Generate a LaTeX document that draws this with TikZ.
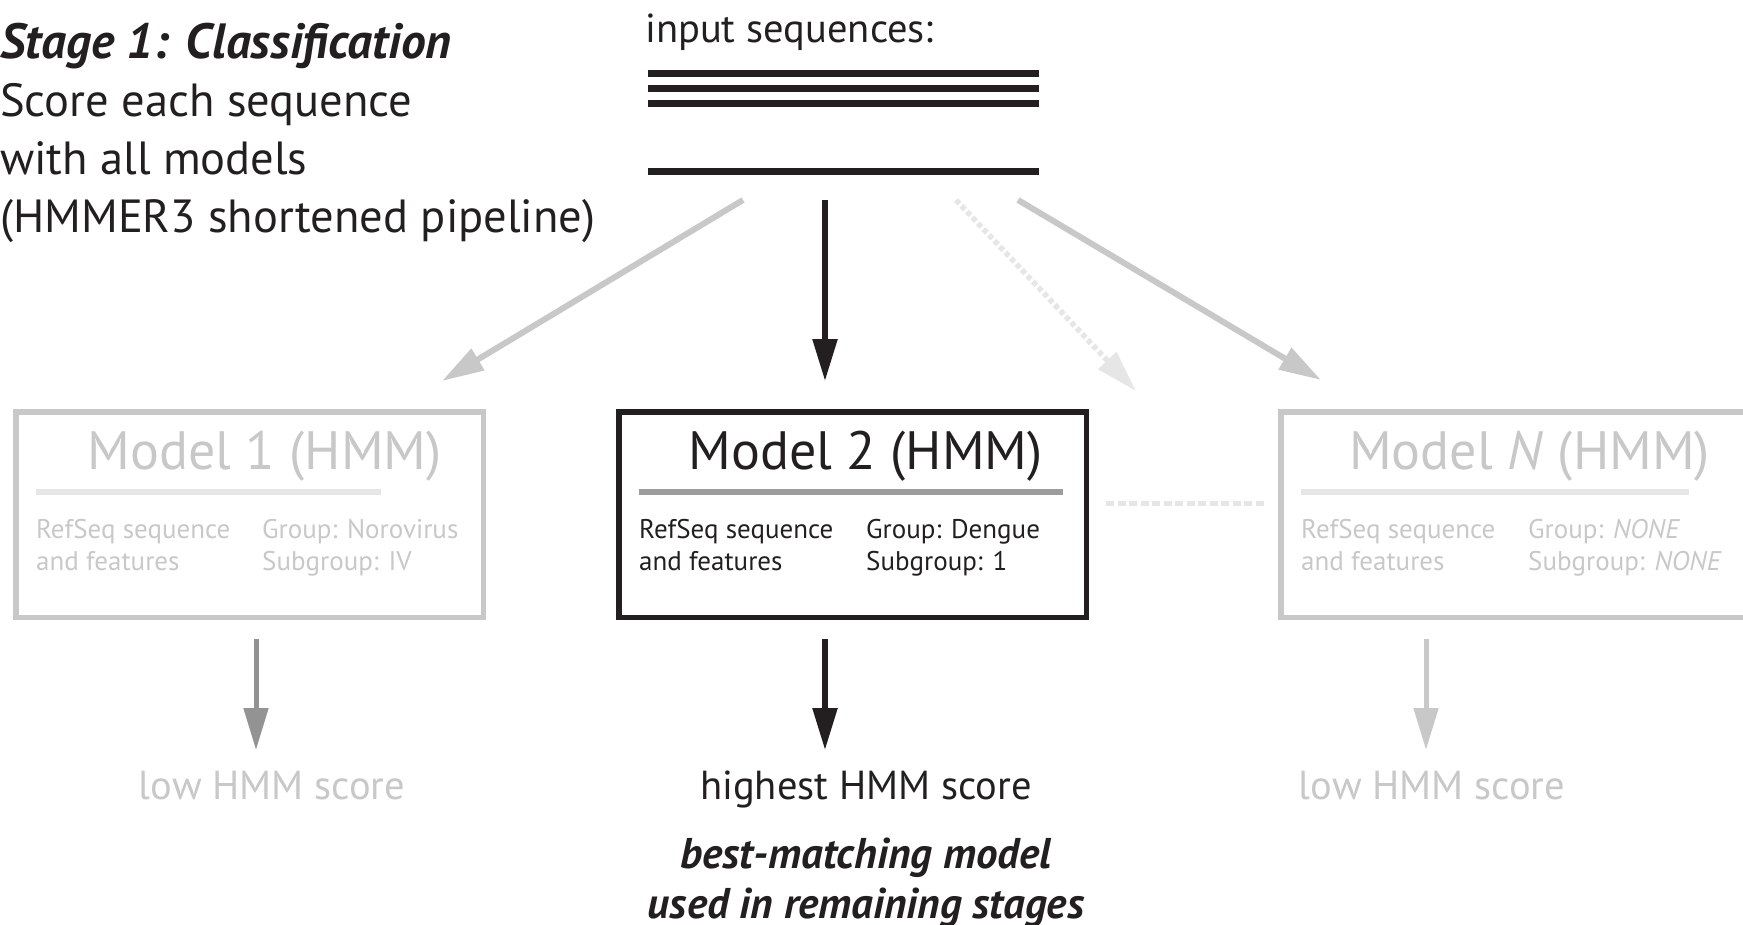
\documentclass[tikz,border=0pt]{standalone}
\usepackage{fontspec}
\setmainfont{PT Sans}
\usepackage{xcolor}
\usepackage{tikz}
\usetikzlibrary{arrows.meta,positioning}
\definecolor{ink}{HTML}{231F20}
\definecolor{faint}{HTML}{C8C8C8}
\definecolor{pale}{HTML}{E6E6E6}
\definecolor{rulegray}{HTML}{9D9D9D}
\definecolor{midgray}{HTML}{939393}

\begin{document}
\begin{tikzpicture}[x=1pt, y=-1pt, every node/.style={inner sep=0pt, text=ink},
      model/.style={draw=#1, line width=5.5pt, minimum width=467.5pt, minimum height=205.5pt},
      title/.style={font=\fontsize{54}{62}\selectfont, anchor=base},
      info/.style={font=\fontsize{27}{32}\selectfont, align=left, anchor=north west},
      big/.style={font=\fontsize{40.5}{52}\selectfont},
      seqline/.style={draw=ink, line width=7pt},
      >={Triangle[length=42pt, width=24pt]}]
    \useasboundingbox (0,0) rectangle (1743,924);
    \node[font=\fontsize{46.5}{58}\selectfont, align=left, anchor=north west] (stage) at (0,23)
      {{\fontsize{49.5}{58}\selectfont\bfseries\itshape Stage 1: Classification}\\Score each sequence\\with all models\\(HMMER3 shortened pipeline)};
    \node[big, anchor=base west] (inp) at (645,42) {input sequences:};
    \foreach \y in {73,88,103,171} \draw[seqline] (648,\y) -- (1039,\y);
    % the three models
    \node[model=faint] (m1) at (249.5,514.5) {};
    \node[model=ink, right=130pt of m1] (m2) {};
    \node[model=faint, right=189pt of m2] (mN) {};
    \node[title, text=faint] (t1) at ([shift={(15pt,-60pt)}]m1.north) {Model 1 (HMM)};
    \node[title] (t2) at ([shift={(13pt,-60pt)}]m2.north) {Model 2 (HMM)};
    \node[title, text=faint] (tN) at ([shift={(15pt,-60pt)}]mN.north) {Model \textit{N} (HMM)};
    \draw[pale, line width=6pt] ([shift={(23pt,-83pt)}]m1.north west) -- ++(345,0);
    \draw[rulegray, line width=6pt] ([shift={(23pt,-83pt)}]m2.north west) -- ++(424,0);
    \draw[pale, line width=6pt] ([shift={(23pt,-83pt)}]mN.north west) -- ++(388,0);
    \node[info, text=faint] (r1) at ([shift={(23pt,-110pt)}]m1.north west) {RefSeq sequence\\and features};
    \node[info, text=faint] (g1) at ([shift={(249pt,-110pt)}]m1.north west) {Group: Norovirus\\Subgroup: IV};
    \node[info] (r2) at ([shift={(23pt,-110pt)}]m2.north west) {RefSeq sequence\\and features};
    \node[info] (g2) at ([shift={(250pt,-110pt)}]m2.north west) {Group: Dengue\\Subgroup: 1};
    \node[info, text=faint] (rN) at ([shift={(23pt,-110pt)}]mN.north west) {RefSeq sequence\\and features};
    \node[info, text=faint] (gN) at ([shift={(250pt,-110pt)}]mN.north west) {Group: \textit{NONE}\\Subgroup: \textit{NONE}};
    \draw[pale, line width=5pt, dash pattern=on 8pt off 3.5pt]
      ([shift={(17pt,11pt)}]m2.east) -- ([shift={(-14pt,11pt)}]mN.west);
    % arrows from the input
    \coordinate (s1) at (743,200); \coordinate (e1) at (442,381);
    \coordinate (s2) at (825,200); \coordinate (e2) at (825,381);
    \coordinate (s3) at (956,200); \coordinate (e3) at (1136,391);
    \coordinate (s4) at (1018,200); \coordinate (e4) at (1321,380);
    \draw[->, faint, line width=6pt] (s1) -- (e1);
    \draw[->, ink, line width=5.5pt] (s2) -- (e2);
    \draw[->, pale, line width=5.5pt, dash pattern=on 5pt off 3pt] (s3) -- (e3);
    \draw[->, faint, line width=6pt] (s4) -- (e4);
    % scores
    \node[big, text=faint, anchor=base] (low1) at (272,799) {low HMM score};
    \node[big, anchor=base] (hi) at (866,799) {highest HMM score};
    \node[big, text=faint, anchor=base] (lowN) at (1432,799) {low HMM score};
    \node[font=\fontsize{43}{50}\selectfont\bfseries\itshape, align=center, anchor=north] (best) at (866,838)
      {best-matching model\\used in remaining stages};
    \coordinate (b1) at (256,639); \coordinate (c1) at (256,750);
    \coordinate (b2) at (825,639); \coordinate (c2) at (825,750);
    \coordinate (bN) at (1426,639); \coordinate (cN) at (1426,750);
    \draw[->, midgray, line width=5pt] (b1) -- (c1);
    \draw[->, ink, line width=5.5pt] (b2) -- (c2);
    \draw[->, faint, line width=5pt] (bN) -- (cN);
  \end{tikzpicture}
\end{document}
